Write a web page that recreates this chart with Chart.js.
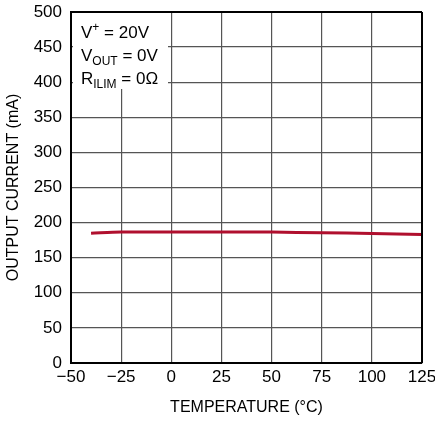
<!DOCTYPE html>
<html>
<head>
<meta charset="utf-8">
<script src="https://cdn.jsdelivr.net/npm/chart.js@4/dist/chart.umd.min.js"></script>
<style>
html,body{margin:0;padding:0;background:#fff;}
#wrap{width:435px;height:421px;}
</style>
</head>
<body>
<div id="wrap"><canvas id="c" width="435" height="421"></canvas></div>
<script>
var temps=[-40,-25,0,25,50,75,100,125];
var current=[185,186.5,186.5,186.5,186.5,185.5,184.5,183];
var xTicks=[-50,-25,0,25,50,75,100,125];
var yTicks=[0,50,100,150,200,250,300,350,400,450,500];

var fam='"Liberation Sans",Arial,sans-serif';

var pts=[];
for(var i=0;i<temps.length;i++){pts.push({x:temps[i],y:current[i]});}

// white box with the test conditions, drawn over the grid
var notes={
  id:'notes',
  afterDatasetsDraw:function(chart){
    var c=chart.ctx, a=chart.chartArea;
    c.save();
    c.fillStyle='#fff';
    c.fillRect(a.left+2,a.top+1,95,76);
    c.fillStyle='#000';
    c.textBaseline='alphabetic';
    var big='17px '+fam, small='12px '+fam;
    function run(parts,x,y){
      for(var k=0;k<parts.length;k++){
        var p=parts[k];
        c.font=p[1]=='n'?big:small;
        var dy=p[1]=='sup'?-7:(p[1]=='sub'?4:0);
        c.fillText(p[0],x,y+dy);
        x+=c.measureText(p[0]).width;
      }
    }
    var x=a.left+10;
    run([['V','n'],['+','sup'],[' = 20V','n']],x,a.top+26);
    run([['V','n'],['OUT','sub'],[' = 0V','n']],x,a.top+49);
    run([['R','n'],['ILIM','sub'],[' = 0\u03A9','n']],x,a.top+72);
    c.restore();
  }
};

new Chart(document.getElementById('c'),{
  type:'scatter',
  data:{datasets:[{
    data:pts,
    showLine:true,
    borderColor:'#b00f2e',
    borderWidth:3,
    pointRadius:0,
    tension:0.3
  }]},
  options:{
    responsive:false,
    animation:false,
    layout:{padding:{top:12,right:13,left:0,bottom:0}},
    plugins:{legend:{display:false},tooltip:{enabled:false}},
    scales:{
      x:{
        type:'linear',min:-50,max:125,
        afterBuildTicks:function(s){s.ticks=xTicks.map(function(v){return {value:v};});},
        afterFit:function(s){s.height=58;s.paddingLeft=0;s.paddingRight=0;},
        grid:{color:'#555',lineWidth:1.2,drawTicks:false},
        border:{color:'#000',width:2},
        ticks:{color:'#000',padding:4,maxRotation:0,font:{family:fam,size:17},
          callback:function(v){return v<0?'\u2212'+Math.abs(v):''+v;}},
        title:{display:true,text:'TEMPERATURE (\u00B0C)',color:'#000',padding:{top:5},font:{family:fam,size:16}}
      },
      y:{
        min:0,max:500,
        afterBuildTicks:function(s){s.ticks=yTicks.map(function(v){return {value:v};});},
        afterFit:function(s){s.width=71;s.paddingTop=0;s.paddingBottom=0;},
        grid:{color:'#555',lineWidth:1.2,drawTicks:false},
        border:{color:'#000',width:2},
        ticks:{color:'#000',padding:9,font:{family:fam,size:17}},
        title:{display:true,text:'OUTPUT CURRENT (mA)',color:'#000',padding:{bottom:2},font:{family:fam,size:16}}
      }
    }
  },
  plugins:[notes,{
    id:'frame',
    afterDraw:function(chart){
      var c=chart.ctx,a=chart.chartArea;
      c.save();c.strokeStyle='#000';c.lineWidth=2;
      c.beginPath();c.moveTo(a.left,a.top);c.lineTo(a.right,a.top);
      c.moveTo(a.right,a.top);c.lineTo(a.right,a.bottom);c.stroke();
      c.restore();
    }
  }]
});
</script>
</body>
</html>
